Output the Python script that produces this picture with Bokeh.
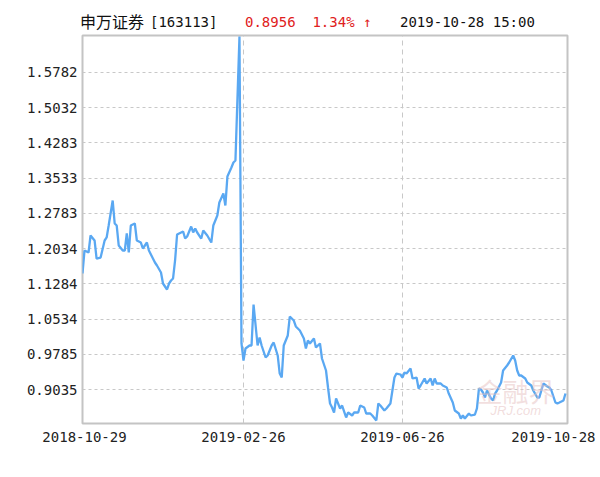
from bokeh.plotting import figure
from bokeh.models import FixedTicker, NumeralTickFormatter, Label, Range1d, Div
from bokeh.layouts import column
from bokeh.embed import file_html
from bokeh.resources import INLINE

# trading-day index (0 = 2018-10-29, 241 = 2019-10-28) and unit NAV
day = [0, 1, 3, 4, 6, 7, 9, 11, 12, 13, 15, 16, 17, 18, 20, 21, 22, 23, 24, 26,
       27, 29, 30, 32, 33, 35, 36, 37, 39, 40, 42, 43, 44, 45, 46, 47, 48, 50, 51, 52,
       54, 55, 56, 57, 59, 60, 62, 64, 65, 67, 68, 70, 71, 72, 74, 75, 76, 78, 79, 80,
       81, 83, 84, 85, 87, 88, 89, 91, 92, 94, 95, 97, 98, 99, 100, 102, 103, 105, 106, 108,
       110, 111, 112, 113, 115, 116, 118, 119, 121, 122, 123, 124, 125, 126, 128, 129, 131, 132, 134, 135,
       137, 138, 140, 141, 143, 144, 146, 147, 148, 150, 151, 153, 154, 155, 156, 158, 159, 160, 161, 163,
       164, 166, 167, 168, 170, 171, 173, 174, 175, 176, 178, 179, 181, 182, 184, 185, 187, 188, 189, 190,
       192, 193, 195, 196, 197, 198, 199, 200, 201, 203, 204, 205, 206, 208, 209, 211, 212, 214, 215, 216,
       217, 218, 220, 221, 223, 224, 226, 227, 228, 229, 231, 232, 233, 235, 236, 237, 239, 240]
nav = [1.1506, 1.1994, 1.1952, 1.2313, 1.2207, 1.1824, 1.1845, 1.2207, 1.2271, 1.2525,
       1.3057, 1.2568, 1.2525, 1.2101, 1.1994, 1.1994, 1.2356, 1.1952, 1.2525, 1.2568,
       1.2207, 1.2164, 1.2037, 1.2164, 1.1994, 1.1824, 1.1739, 1.1676, 1.1527, 1.1293,
       1.1166, 1.1293, 1.1357, 1.1400, 1.1782, 1.2334, 1.2356, 1.2398, 1.2249, 1.2292,
       1.2504, 1.2377, 1.2462, 1.2377, 1.2249, 1.2419, 1.2313, 1.2164, 1.2525, 1.2738,
       1.3014, 1.3205, 1.2950, 1.3567, 1.3758, 1.3864, 1.3907, 1.6541, 1.0019, 0.9657,
       0.9912, 0.9976, 0.9976, 1.0847, 0.9976, 1.0146, 0.9976, 0.9721, 0.9764, 0.9976,
       1.0040, 0.9764, 0.9381, 0.9296, 0.9976, 1.0189, 1.0592, 1.0507, 1.0380, 1.0295,
       1.0125, 0.9912, 1.0082, 1.0019, 1.0125, 0.9934, 1.0019, 0.9700, 0.9445, 0.9084,
       0.8744, 0.8659, 0.8553, 0.8850, 0.8638, 0.8701, 0.8447, 0.8553, 0.8489, 0.8553,
       0.8553, 0.8701, 0.8659, 0.8531, 0.8531, 0.8489, 0.8383, 0.8744, 0.8701, 0.8595,
       0.8638, 0.8744, 0.9020, 0.9296, 0.9381, 0.9360, 0.9296, 0.9403, 0.9381, 0.9488,
       0.9275, 0.9296, 0.9063, 0.9126, 0.9275, 0.9169, 0.9275, 0.9126, 0.9275, 0.9169,
       0.9169, 0.9126, 0.9084, 0.8956, 0.8765, 0.8595, 0.8531, 0.8425, 0.8489, 0.8425,
       0.8531, 0.8489, 0.8510, 0.8638, 0.9063, 0.9041, 0.8978, 0.8871, 0.9020, 0.8850,
       0.8808, 0.8956, 0.9020, 0.9190, 0.9445, 0.9551, 0.9615, 0.9764, 0.9657, 0.9445,
       0.9339, 0.9339, 0.9275, 0.9190, 0.9126, 0.9020, 0.8871, 0.8871, 0.9020, 0.9169,
       0.9105, 0.9084, 0.9020, 0.8765, 0.8744, 0.8765, 0.8808, 0.8956]

y_ticks = [0.9035, 0.9785, 1.0534, 1.1284, 1.2034, 1.2783, 1.3533, 1.4283, 1.5032, 1.5782]
x_tick_days = [1, 80, 159, 234]
x_tick_labels = ["2018-10-29", "2019-02-26", "2019-06-26", "2019-10-28"]
grid_days = [80, 159]

fund_name = "申万证券"
fund_code = "[163113]"
last_nav = "0.8956"
change = "1.34% ↑"
stamp = "2019-10-28 15:00"

MONO = "DejaVu Sans Mono"

p = figure(width=598, height=434, output_backend="svg", toolbar_location=None,
           min_border_left=82, min_border_right=31, min_border_top=1, min_border_bottom=45,
           x_range=Range1d(0, 241), y_range=Range1d(0.8319, 1.6562), margin=0)
p.background_fill_color = "white"
p.border_fill_color = "white"
p.outline_line_color = "#c4c4c4"
p.outline_line_width = 2

p.line(day, nav, line_color="#5aa8f2", line_width=2.3)

p.yaxis.ticker = FixedTicker(ticks=y_ticks)
p.yaxis.formatter = NumeralTickFormatter(format="0.0000")
p.xaxis.ticker = FixedTicker(ticks=x_tick_days)
p.xaxis.major_label_overrides = {d: s for d, s in zip(x_tick_days, x_tick_labels)}
for ax in (p.xaxis[0], p.yaxis[0]):
    ax.axis_line_color = None
    ax.major_tick_line_color = None
    ax.minor_tick_line_color = None
    ax.major_tick_out = 0
    ax.major_tick_in = 0
    ax.major_label_text_font = MONO
    ax.major_label_text_font_size = "14px"
    ax.major_label_text_color = "#222222"
p.yaxis.major_label_standoff = 5
p.xaxis.major_label_standoff = 8

p.ygrid.ticker = FixedTicker(ticks=y_ticks)
p.ygrid.grid_line_color = "#c8c8c8"
p.ygrid.grid_line_dash = "3 3"
p.ygrid.grid_line_width = 1
p.xgrid.ticker = FixedTicker(ticks=grid_days)
p.xgrid.grid_line_color = "#c8c8c8"
p.xgrid.grid_line_dash = "5 4"
p.xgrid.grid_line_width = 1

# faint watermark
p.add_layout(Label(x=394, y=33, x_units="screen", y_units="screen", text="金融界",
                   text_font="Noto Sans CJK SC", text_font_size="26px", text_color="#e6c0c0",
                   text_alpha=0.5, text_baseline="middle"))
p.add_layout(Label(x=408, y=13, x_units="screen", y_units="screen", text="JRJ.com",
                   text_font="Liberation Sans", text_font_size="13px", text_font_style="italic",
                   text_color="#e6c0c0", text_alpha=0.55, text_baseline="middle"))

span = ('<span style="position:absolute;left:{l}px;top:{t}px;font-family:{f};'
        'font-size:{s}px;line-height:18px;color:{c};white-space:pre;">{x}</span>')
header_html = ('<div style="position:relative;width:598px;height:34px;">'
               + span.format(l=80, t=12, f="'Noto Sans CJK SC'", s=16, c="#111111", x=fund_name)
               + span.format(l=150, t=13, f="'DejaVu Sans Mono'", s=14, c="#111111", x=fund_code)
               + span.format(l=245, t=13, f="'DejaVu Sans Mono'", s=14, c="#e02020",
                             x=last_nav + "  " + change)
               + span.format(l=400, t=13, f="'DejaVu Sans Mono'", s=14, c="#111111", x=stamp)
               + '</div>')
header = Div(text=header_html, width=598, height=34, margin=0)

layout = column(header, p, spacing=0, margin=0)
open("out.html", "w").write(file_html(layout, INLINE))
